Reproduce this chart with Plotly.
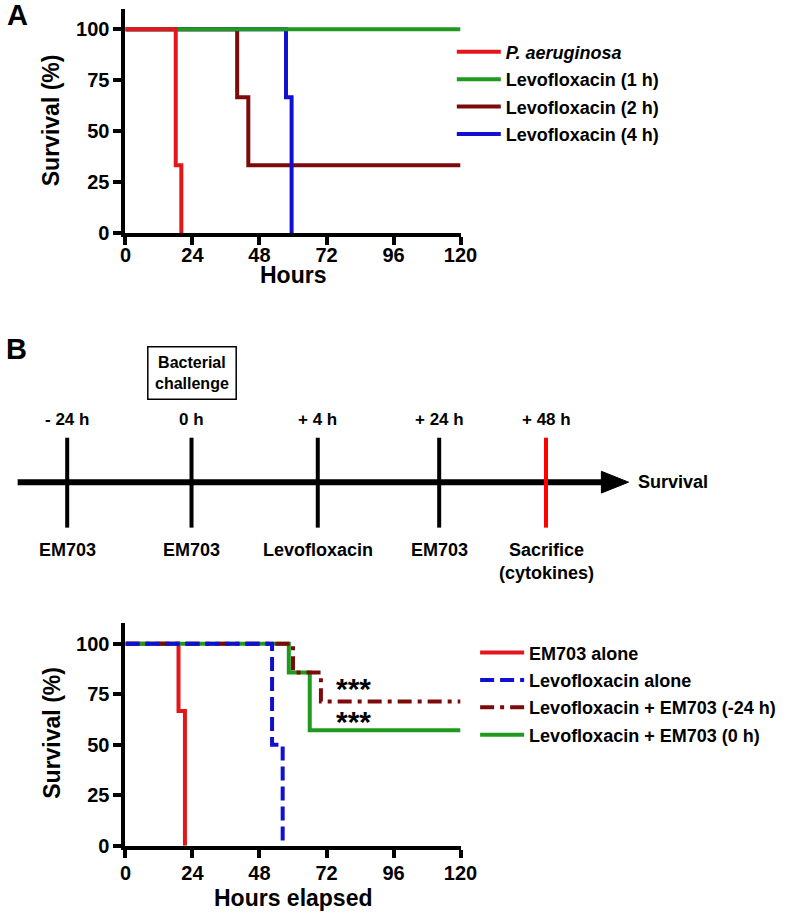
import plotly.graph_objects as go

# ---------------- Data ----------------
# Panel A: survival curves (hours, %)
a_names = ["<i>P. aeruginosa</i>", "Levofloxacin (1 h)", "Levofloxacin (2 h)", "Levofloxacin (4 h)"]
a_pa_t = [0, 18, 20]
a_pa_s = [100, 33.3, 0]
a_lev1_t = [0, 120]
a_lev1_s = [100, 100]
a_lev2_t = [0, 40, 44, 120]
a_lev2_s = [100, 66.7, 33.3, 33.3]
a_lev4_t = [0, 57.5, 59.5]
a_lev4_s = [100, 66.7, 0]

# Panel B: survival curves
b_names = ["EM703 alone", "Levofloxacin alone", "Levofloxacin + EM703 (-24 h)", "Levofloxacin + EM703 (0 h)"]
b_em_t = [0, 19, 21.3]
b_em_s = [100, 66.7, 0]
b_lev_t = [0, 52.5, 56.3]
b_lev_s = [100, 50, 0]
b_comb24_t = [0, 60, 70, 120]
b_comb24_s = [100, 85.7, 71.4, 71.4]
b_comb0_t = [0, 58.5, 66, 120]
b_comb0_s = [100, 85.7, 57.1, 57.1]
b_signif = ["***", "***"]

# Axis ticks
x_ticks = [0, 24, 48, 72, 96, 120]
y_ticks = [0, 25, 50, 75, 100]

# Timeline
tl_times = ["- 24 h", "0 h", "+ 4 h", "+ 24 h", "+ 48 h"]
tl_events = ["EM703", "EM703", "Levofloxacin", "EM703", "Sacrifice<br>(cytokines)"]
tl_colors = ["black", "black", "black", "black", "red"]

# ---------------- Layout constants ----------------
W, H = 800, 921
FONT = "Liberation Sans, Arial, sans-serif"
tl_x = [63, 191, 321, 446, 556]  # pixel positions of the timeline events


def py(p):
    return 1 - p / H


RED = "#e3161b"
GREEN = "#1f9a1f"
MAROON = "#7d0a0a"
BLUE = "#1010d0"

fig = go.Figure()

# ---- Panel A traces (draw order: maroon, blue, green, red on top)
fig.add_trace(go.Scatter(x=a_lev2_t, y=a_lev2_s, name=a_names[2], mode="lines", line=dict(color=MAROON, width=4, shape="hv"),
                         xaxis="x", yaxis="y", legend="legend", legendrank=3, legendgroup="a3"))
fig.add_trace(go.Scatter(x=a_lev4_t, y=a_lev4_s, name=a_names[3], mode="lines", line=dict(color=BLUE, width=4, shape="hv"),
                         xaxis="x", yaxis="y", legend="legend", legendrank=4, legendgroup="a4"))
fig.add_trace(go.Scatter(x=a_lev1_t, y=a_lev1_s, name=a_names[1], mode="lines", line=dict(color=GREEN, width=4, shape="hv"),
                         xaxis="x", yaxis="y", legend="legend", legendrank=2, legendgroup="a2"))
fig.add_trace(go.Scatter(x=a_pa_t, y=a_pa_s, name=a_names[0], mode="lines", line=dict(color=RED, width=4, shape="hv"),
                         xaxis="x", yaxis="y", legend="legend", legendrank=1, legendgroup="a1"))

# ---- Panel B traces (draw order: red, green, maroon, blue on top)
fig.add_trace(go.Scatter(x=b_em_t, y=b_em_s, name=b_names[0], mode="lines", line=dict(color=RED, width=4, shape="hv"),
                         xaxis="x2", yaxis="y2", legend="legend2", legendrank=1, legendgroup="b1"))
fig.add_trace(go.Scatter(x=b_comb0_t, y=b_comb0_s, name=b_names[3], mode="lines", line=dict(color=GREEN, width=4, shape="hv"),
                         xaxis="x2", yaxis="y2", legend="legend2", legendrank=4, legendgroup="b4"))
fig.add_trace(go.Scatter(x=b_comb24_t, y=b_comb24_s, name=b_names[2], mode="lines",
                         line=dict(color=MAROON, width=4, shape="hv", dash="14px,6px,4px,6px"),
                         xaxis="x2", yaxis="y2", legend="legend2", legendrank=3, legendgroup="b3"))
fig.add_trace(go.Scatter(x=b_lev_t, y=b_lev_s, name=b_names[1], mode="lines",
                         line=dict(color=BLUE, width=4, shape="hv", dash="14px,6px"),
                         xaxis="x2", yaxis="y2", legend="legend2", legendrank=2, legendgroup="b2"))

axis_common = dict(showline=True, linewidth=4, linecolor="black", ticks="outside", ticklen=8, tickwidth=4,
                   tickcolor="black", showgrid=False, zeroline=False, fixedrange=True,
                   tickfont=dict(family=FONT, size=20, color="black", weight="bold"))

xa = dict(axis_common, range=[0, 120], tickvals=x_ticks, domain=[123 / W, 468 / W])
ya = dict(axis_common, range=[0, 110], tickvals=y_ticks)

title_font = dict(family=FONT, size=23, color="black", weight="bold")

# Timeline shapes (pixel coordinate axes x3/y3)
shapes = []
shapes.append(dict(type="line", xref="x3", yref="y3", x0=12, x1=620, y0=488, y1=488,
                   line=dict(color="black", width=6)))
shapes.append(dict(type="path", xref="x3", yref="y3", path="M 613,477 L 641,488 L 613,499 Z",
                   fillcolor="black", line=dict(color="black", width=1)))
for xp, c in zip(tl_x, tl_colors):
    shapes.append(dict(type="line", xref="x3", yref="y3", x0=xp, x1=xp, y0=443, y1=534,
                       line=dict(color=c, width=4)))
shapes.append(dict(type="rect", xref="x3", yref="y3", x0=146, x1=237, y0=351, y1=404,
                   line=dict(color="black", width=1.5), fillcolor="rgba(0,0,0,0)"))

ann = []
tl_font_top = dict(family=FONT, size=17, color="black", weight="bold")
tl_font_bot = dict(family=FONT, size=18, color="black", weight="bold")
for xp, t, e in zip(tl_x, tl_times, tl_events):
    ann.append(dict(x=xp, y=425, xref="x3", yref="y3", text=t, showarrow=False, font=tl_font_top,
                    xanchor="center", yanchor="middle"))
    ann.append(dict(x=xp, y=544, xref="x3", yref="y3", text=e, showarrow=False, font=tl_font_bot,
                    xanchor="center", yanchor="top"))
ann.append(dict(x=649, y=488, xref="x3", yref="y3", text="Survival", showarrow=False, font=tl_font_bot,
                xanchor="left", yanchor="middle"))
ann.append(dict(x=191.5, y=377.5, xref="x3", yref="y3", text="Bacterial<br>challenge", showarrow=False,
                font=dict(family=FONT, size=16, color="black", weight="bold"), xanchor="center", yanchor="middle"))
# Panel letters
ann.append(dict(x=12, y=15, xref="x3", yref="y3", text="A", showarrow=False,
                font=dict(family=FONT, size=29, color="black", weight="bold"), xanchor="center", yanchor="middle"))
ann.append(dict(x=11, y=353, xref="x3", yref="y3", text="B", showarrow=False,
                font=dict(family=FONT, size=29, color="black", weight="bold"), xanchor="center", yanchor="middle"))
# Axis titles
ann.append(dict(x=295.5, y=278, xref="x3", yref="y3", text="Hours", showarrow=False, font=title_font,
                xanchor="center", yanchor="middle"))
ann.append(dict(x=295.5, y=909, xref="x3", yref="y3", text="Hours elapsed", showarrow=False, font=title_font,
                xanchor="center", yanchor="middle"))
ann.append(dict(x=46, y=122, xref="x3", yref="y3", text="Survival (%)", showarrow=False, font=title_font,
                textangle=-90, xanchor="center", yanchor="middle"))
ann.append(dict(x=48, y=742, xref="x3", yref="y3", text="Survival (%)", showarrow=False, font=title_font,
                textangle=-90, xanchor="center", yanchor="middle"))
# significance stars
for yv, s in zip([78, 61.5], b_signif):
    ann.append(dict(x=81.5, y=yv, xref="x2", yref="y2", text=s, showarrow=False,
                    font=dict(family=FONT, size=30, color="black", weight="bold"), xanchor="center", yanchor="middle"))

legend_font = dict(family=FONT, size=18, color="black", weight="bold")

fig.update_layout(
    width=W, height=H, autosize=False,
    margin=dict(l=0, r=0, t=0, b=0),
    paper_bgcolor="white", plot_bgcolor="rgba(0,0,0,0)",
    font=dict(family=FONT, color="black"),
    xaxis=dict(xa, anchor="y", ticklabelstandoff=-7),
    yaxis=dict(ya, anchor="x", domain=[py(236), py(9)]),
    xaxis2=dict(xa, anchor="y2", ticklabelstandoff=-2),
    yaxis2=dict(ya, anchor="x2", domain=[py(856), py(631)]),
    xaxis3=dict(domain=[0, 1], range=[0, W], visible=False, fixedrange=True, anchor="y3"),
    yaxis3=dict(domain=[0, 1], range=[H, 0], visible=False, fixedrange=True, anchor="x3"),
    shapes=shapes,
    annotations=ann,
    showlegend=True,
    legend=dict(x=459 / W, y=py(34), xanchor="left", yanchor="top", font=legend_font,
                bgcolor="rgba(0,0,0,0)", traceorder="grouped", tracegroupgap=1, itemwidth=44),
    legend2=dict(x=483 / W, y=py(642), xanchor="left", yanchor="top", font=legend_font,
                 bgcolor="rgba(0,0,0,0)", traceorder="grouped", tracegroupgap=1, itemwidth=44),
)

fig.write_html("out.html", config={"displayModeBar": False},
               post_script="document.documentElement.style.margin='0px';document.body.style.margin='0px';"
                           "document.body.style.padding='0px';document.body.style.overflow='hidden';")
